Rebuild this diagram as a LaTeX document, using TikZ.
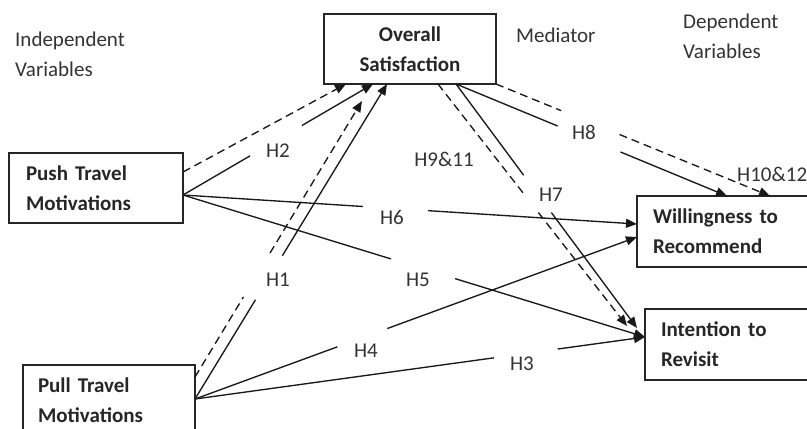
\documentclass[tikz,border=0pt]{standalone}
\usepackage{fontspec}
\setmainfont{Carlito}
\usetikzlibrary{arrows.meta,calc}
\begin{document}
\begin{tikzpicture}[x=1bp,y=-1bp,
  box/.style={draw=black!85, line width=2bp, rectangle, outer sep=0pt, minimum height=70bp,
    align=left, font=\bfseries\fontsize{21bp}{30bp}\selectfont, text=black!85, anchor=north west},
  lbl/.style={font=\fontsize{21bp}{30bp}\selectfont, text=black!80, inner sep=0pt},
  conn/.style={line width=1.35bp, draw=black!90},
  arr/.style={conn, -{Triangle[length=11bp,width=9bp]}},
  dsh/.style={dash pattern=on 8bp off 5bp}
]
\useasboundingbox (0,0) rectangle (807,428);
\clip (0,0) rectangle (807,428);

% boxes
\node[box, minimum width=172bp, align=center, inner sep=0pt] (overall) at (324,14) {Overall\\Satisfaction};
\node[box, minimum width=174bp, text width=140bp, inner xsep=17bp, inner ysep=0pt] (push) at (9,153) {Push Travel\\Motivations};
\node[box, minimum width=172bp, text width=142bp, inner xsep=15bp, inner ysep=0pt] (pull) at (23,365) {Pull Travel\\Motivations};
\node[box, minimum width=203bp, minimum height=71bp, text width=171bp, inner xsep=16bp, inner ysep=0pt] (will) at (637,196) {Willingness to\\Recommend};
\node[box, minimum width=203bp, minimum height=71bp, text width=171bp, inner xsep=16bp, inner ysep=0pt] (int) at (645,309) {Intention to\\Revisit};

% free text
\node[lbl, align=left, anchor=base west] (indep) at (15,76) {Independent\\Variables};
\node[lbl, anchor=base west] (med) at (516,42) {Mediator};
\node[lbl, align=left, anchor=base west] (dep) at (683,58) {Dependent\\Variables};

% connector end points
\coordinate (pushD) at ($(push.north east)+(0,19)$);
\coordinate (pushS) at ($(push.north east)+(0,42)$);
\coordinate (pullS) at ($(pull.north east)+(0,34)$);
\coordinate (pullD) at ($(pull.north east)+(0,12)$);
\coordinate (ovH2d) at ($(overall.south west)+(22,0)$);
\coordinate (ovH2s) at ($(overall.south west)+(49,0)$);
\coordinate (ovH1s) at ($(overall.south west)+(63,0)$);
\coordinate (ovH1d) at ($(overall.south west)+(38,17)$);
\coordinate (ovOutD) at ($(overall.south west)+(114,0)$);
\coordinate (ovOutS) at ($(overall.south west)+(132,0)$);
\coordinate (ovOutD2) at (overall.south east);
\coordinate (wH6) at ($(will.north west)+(0,28)$);
\coordinate (wH4) at ($(will.north west)+(0,41)$);
\coordinate (wH8s) at ($(will.north west)+(90,0)$);
\coordinate (wH8d) at ($(will.north west)+(133,0)$);
\coordinate (iH) at ($(int.north west)+(0,28)$);
\coordinate (iH7) at ($(int.north west)+(-8,19)$);
\coordinate (iH9) at ($(int.north west)+(-18,17)$);

% H2
\draw[arr,dsh] (pushD) -- (ovH2d);
\draw[conn] (pushS) -- ($(pushS)!0.353!(ovH2s)$);
\draw[arr] ($(pushS)!0.626!(ovH2s)$) -- (ovH2s);
% H1
\draw[conn] (pullS) -- ($(pullS)!0.315!(ovH1s)$);
\draw[arr] ($(pullS)!0.455!(ovH1s)$) -- (ovH1s);
\draw[conn,dsh] (pullD) -- ($(pullD)!0.29!(ovH1d)$);
\draw[arr,dsh] ($(pullD)!0.449!(ovH1d)$) -- (ovH1d);
% H6
\draw[conn] (pushS) -- ($(pushS)!0.396!(wH6)$);
\draw[arr] ($(pushS)!0.540!(wH6)$) -- (wH6);
% H5
\draw[conn] (pushS) -- ($(pushS)!0.450!(iH)$);
\draw[arr] ($(pushS)!0.589!(iH)$) -- (iH);
% H4
\draw[conn] (pullS) -- ($(pullS)!0.322!(wH4)$);
\draw[arr] ($(pullS)!0.435!(wH4)$) -- (wH4);
% H3
\draw[conn] (pullS) -- ($(pullS)!0.664!(iH)$);
\draw[arr] ($(pullS)!0.806!(iH)$) -- (iH);
% H8
\draw[conn] (ovOutS) -- ($(ovOutS)!0.375!(wH8s)$);
\draw[arr] ($(ovOutS)!0.607!(wH8s)$) -- (wH8s);
\draw[conn,dsh] (ovOutD2) -- ($(ovOutD2)!0.238!(wH8d)$);
\draw[arr,dsh] ($(ovOutD2)!0.451!(wH8d)$) -- (wH8d);
% H7
\draw[conn] (ovOutS) -- ($(ovOutS)!0.374!(iH7)$);
\draw[arr] ($(ovOutS)!0.527!(iH7)$) -- (iH7);
% H9&11
\draw[conn,dsh] (ovOutD) -- ($(ovOutD)!0.452!(iH9)$);
\draw[arr,dsh] ($(ovOutD)!0.531!(iH9)$) -- (iH9);

% hypothesis labels
\node[lbl, anchor=base] (h2) at (278,157) {H2};
\node[lbl, anchor=base] (h1) at (278,286) {H1};
\node[lbl, anchor=base] (h6) at (392,224) {H6};
\node[lbl, anchor=base] (h5) at (418,286) {H5};
\node[lbl, anchor=base] (h4) at (366,357) {H4};
\node[lbl, anchor=base] (h3) at (522,370) {H3};
\node[lbl, anchor=base] (h911) at (444,166) {H9\&11};
\node[lbl, anchor=base] (h7) at (551,201) {H7};
\node[lbl, anchor=base] (h8) at (584,139) {H8};
\node[lbl, anchor=base west] (h1012) at (737,181) {H10\&12};
\end{tikzpicture}
\end{document}
